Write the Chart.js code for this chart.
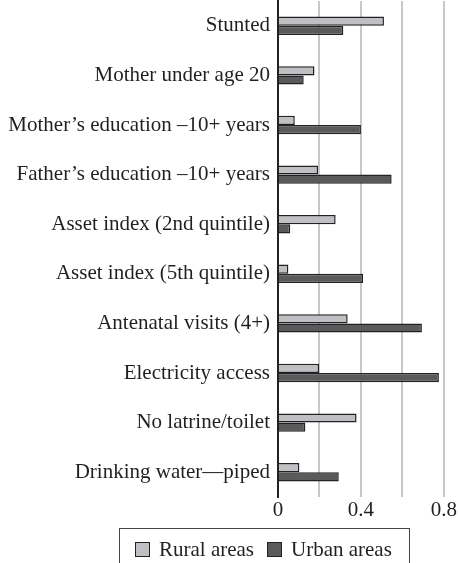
<!DOCTYPE html>
<html>
<head>
<meta charset="utf-8">
<script src="https://cdn.jsdelivr.net/npm/chart.js@4"></script>
<style>
  html, body { margin: 0; padding: 0; background: #fff; }
  #wrap { position: relative; width: 458px; height: 563px; }
  #legend {
    position: absolute; left: 119px; top: 528px; width: 291px; height: 40px;
    border: 1.5px solid #444; border-bottom: none; box-sizing: border-box;
    font-family: "Liberation Serif", serif; font-size: 21px; color: #231f20;
  }
  #legend .item { position: absolute; top: 8px; line-height: 24px; white-space: nowrap; }
  #legend .sw { display: inline-block; width: 15px; height: 15px; border: 1.5px solid #222;
    vertical-align: -1px; margin-right: 9px; box-sizing: border-box; }
</style>
</head>
<body>
<div id="wrap">
  <canvas id="chart" width="458" height="563"></canvas>
  <div id="legend">
    <span class="item" style="left:15px"><span class="sw" style="background:#c0c0c4"></span>Rural areas</span>
    <span class="item" style="left:147px"><span class="sw" style="background:#5a5a5c"></span>Urban areas</span>
  </div>
</div>
<script>
'use strict';

const categories = [
  'Stunted',
  'Mother under age 20',
  'Mother\u2019s education \u201310+ years',
  'Father\u2019s education \u201310+ years',
  'Asset index (2nd quintile)',
  'Asset index (5th quintile)',
  'Antenatal visits (4+)',
  'Electricity access',
  'No latrine/toilet',
  'Drinking water\u2014piped'
];
const ruralValues = [0.511, 0.176, 0.081, 0.193, 0.278, 0.050, 0.336, 0.198, 0.379, 0.103];
const urbanValues = [0.315, 0.124, 0.400, 0.548, 0.059, 0.410, 0.694, 0.776, 0.132, 0.293];
const tickLabels = [0, 0.4, 0.8];

const ctx = document.getElementById('chart');

new Chart(ctx, {
    type: 'bar',
    data: {
        labels: categories,
        datasets: [
            {
                label: 'Rural areas',
                data: ruralValues,
                backgroundColor: '#c0c0c4',
                borderColor: '#222',
                borderWidth: 1.5,
                categoryPercentage: 0.37,
                barPercentage: 1.0
            },
            {
                label: 'Urban areas',
                data: urbanValues,
                backgroundColor: '#5a5a5c',
                borderColor: '#222',
                borderWidth: 1.5,
                categoryPercentage: 0.37,
                barPercentage: 1.0
            }
        ]
    },
    options: {
        indexAxis: 'y',
        responsive: false,
        animation: false,
        layout: { padding: { top: 1, right: 13, bottom: 46, left: 0 } },
        plugins: {
            legend: { display: false },
            tooltip: { enabled: false }
        },
        scales: {
            x: {
                min: 0,
                max: 0.8,
                ticks: {
                    stepSize: 0.2,
                    color: '#231f20',
                    font: { family: 'Liberation Serif', size: 21 },
                    padding: 1,
                    callback: function(v) {
                        const r = Math.round(v * 10) / 10;
                        return tickLabels.includes(r) ? String(r) : '';
                    }
                },
                grid: { color: '#c8c8c8', lineWidth: 2, drawTicks: false },
                border: { display: false },
                afterFit: function(scale) { scale.height = 20; }
            },
            y: {
                ticks: {
                    color: '#231f20',
                    font: { family: 'Liberation Serif', size: 21 },
                    padding: 8,
                    autoSkip: false
                },
                grid: { display: false, drawTicks: false },
                border: { display: true, color: '#222', width: 2 },
                afterFit: function(scale) {
                    scale.width = 278;
                    scale.paddingTop = 0;
                    scale.paddingBottom = 0;
                }
            }
        }
    }
});
</script>
</body>
</html>
